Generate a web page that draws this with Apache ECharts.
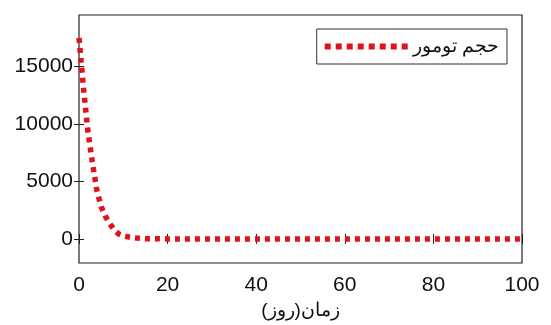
<!DOCTYPE html>
<html>
<head>
<meta charset="utf-8">
<script src="https://cdn.jsdelivr.net/npm/echarts@6/dist/echarts.min.js"></script>
<style>
  html, body { margin: 0; padding: 0; background: #fff; }
  #chart { width: 551px; height: 325px; }
</style>
</head>
<body>
<div id="chart"></div>
<script>
// tumour volume over time (days)
const days = [0, 1, 2, 3, 4, 5, 6, 7, 8, 9, 10, 11, 12, 13, 14, 15, 16, 20, 40, 60, 80, 100];
const volume = [17500, 13200, 9400, 6700, 4300, 2800, 1950, 1300, 750, 420, 260, 180, 120, 70, 40, 20, 10, 0, 0, 0, 0, 0];
const xTicks = [0, 20, 40, 60, 80, 100];
const yTicks = [0, 5000, 10000, 15000];
const seriesName = 'حجم تومور';
const xName = 'زمان(روز)';

const red = '#e0121c';
const font = 'Liberation Sans, Arial, sans-serif';

// legend sample: a row of small squares like the dotted line
let dots = '';
for (let k = 0; k < 8; k++) {
    dots += 'M' + (k * 11) + ',0h6v6h-' + 6 + 'z';
}

let chart = echarts.init(document.getElementById('chart'));

let option = {
    animation: false,
    grid: {
        left: 79, right: 29, top: 15, bottom: 62,
        outerBoundsMode: 'none',
        show: true, borderColor: '#222', borderWidth: 1.2
    },
    legend: {
        data: [{ name: seriesName, icon: 'path://' + dots }],
        right: 44, top: 29,
        padding: [8, 8, 8, 8],
        itemWidth: 83, itemHeight: 6,
        itemGap: 6,
        borderColor: '#333', borderWidth: 1,
        itemStyle: { color: red },
        textStyle: { fontFamily: font, fontSize: 19, color: '#111' }
    },
    xAxis: [{
        type: 'value', min: 0, max: 100, interval: 20,
        name: xName, nameLocation: 'middle', nameGap: 36,
        nameTextStyle: { fontFamily: font, fontSize: 19, color: '#111' },
        axisLine: { show: false },
        axisTick: { show: true, inside: true, length: 5, lineStyle: { color: '#222' } },
        axisLabel: { fontFamily: font, fontSize: 21, color: '#111', margin: 12 },
        splitLine: { show: false }
    }, {
        type: 'value', min: 0, max: 100, interval: 20, position: 'top',
        axisLine: { show: false },
        axisTick: { show: true, inside: true, length: 5, lineStyle: { color: '#222' } },
        axisLabel: { show: false },
        splitLine: { show: false }
    }],
    yAxis: [{
        type: 'value', min: -2100, max: 19500,
        axisLine: { show: false },
        axisTick: { show: true, inside: true, length: 5, lineStyle: { color: '#222' }, customValues: yTicks },
        axisLabel: {
            fontFamily: font, fontSize: 21, color: '#111', margin: 6,
            customValues: yTicks, formatter: v => String(v)
        },
        splitLine: { show: false }
    }, {
        type: 'value', min: -2100, max: 19500, position: 'right',
        axisLine: { show: false },
        axisTick: { show: true, inside: true, length: 5, lineStyle: { color: '#222' }, customValues: yTicks },
        axisLabel: { show: false },
        splitLine: { show: false }
    }],
    series: [{
        name: seriesName,
        type: 'line',
        data: days.map((d, i) => [d, volume[i]]),
        showSymbol: false,
        symbol: 'none',
        color: red,
        lineStyle: { color: red, width: 5.5, type: [5, 5], cap: 'butt' }
    }]
};

chart.setOption(option);
</script>
</body>
</html>
